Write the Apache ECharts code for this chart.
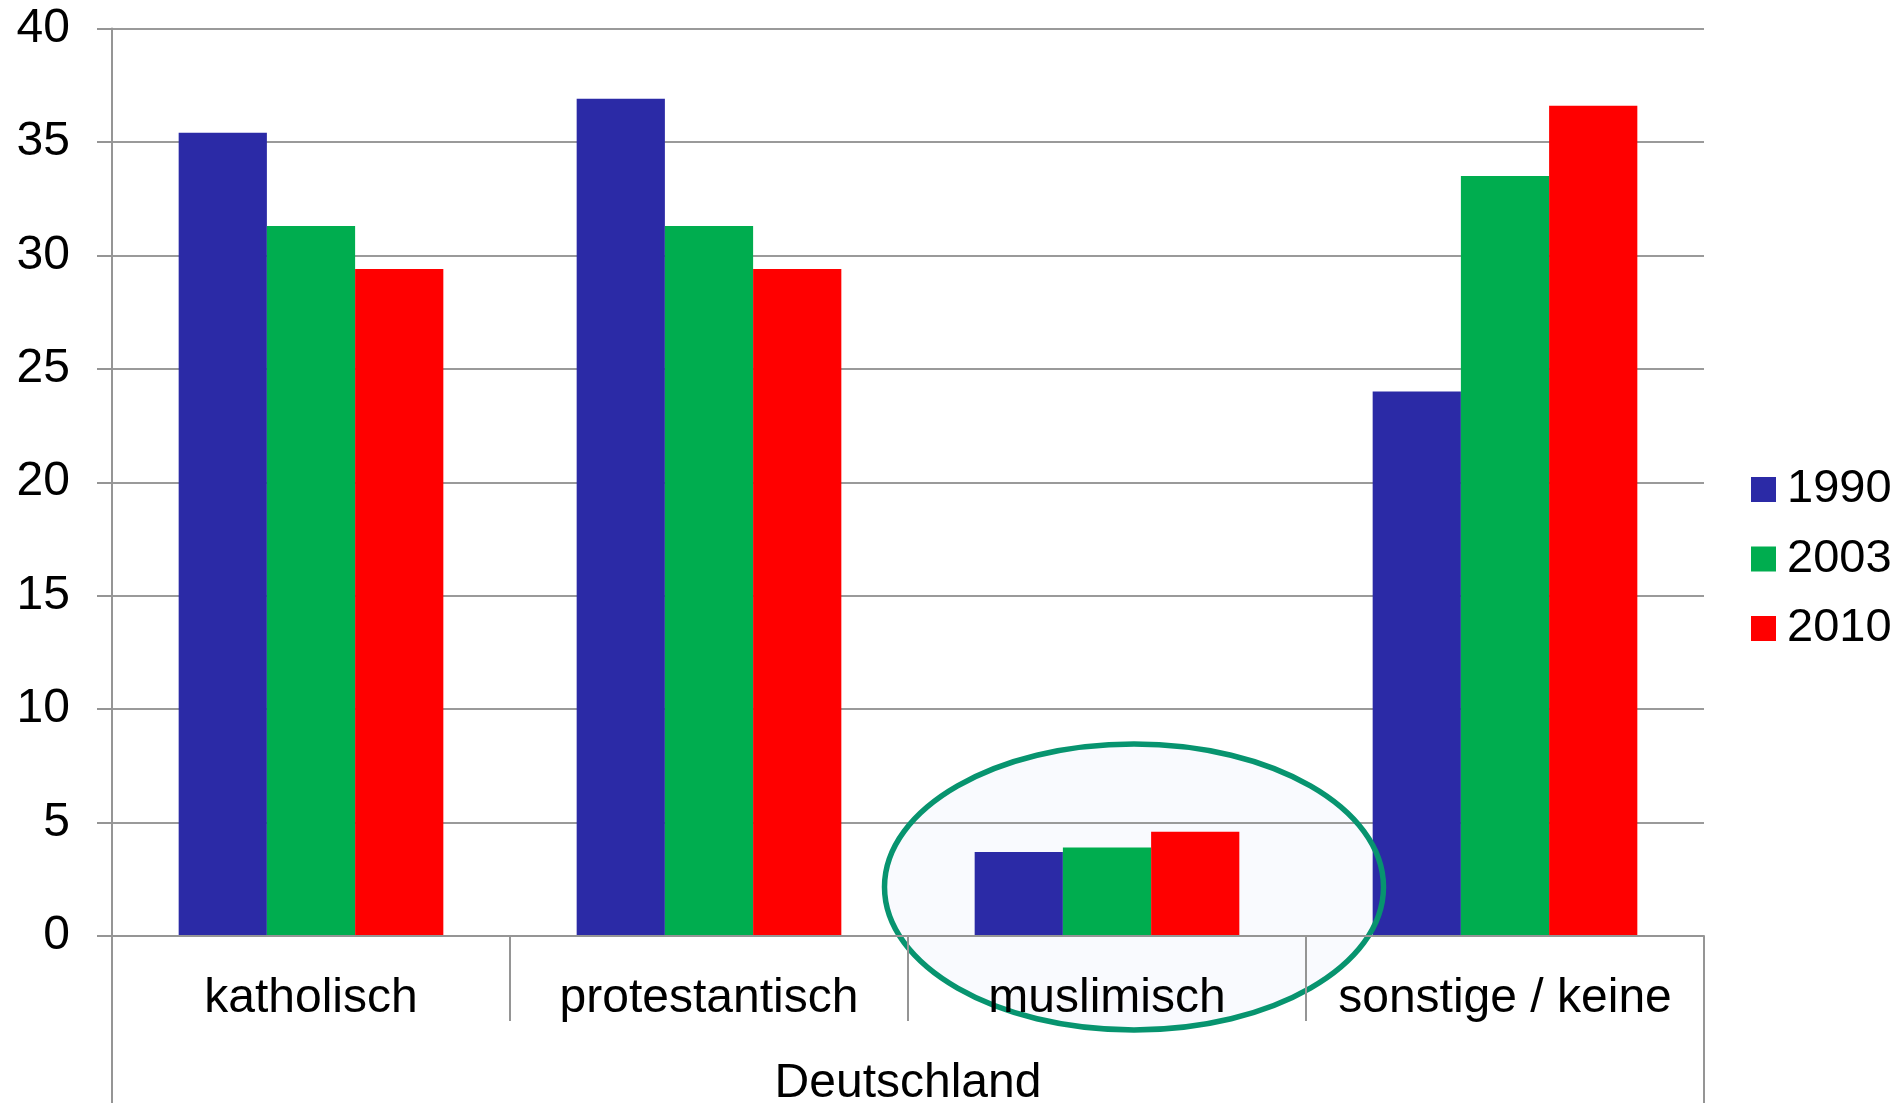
<!DOCTYPE html>
<html>
<head>
<meta charset="utf-8">
<script src="https://cdn.jsdelivr.net/npm/echarts@6/dist/echarts.min.js"></script>
<style>
  html, body { margin: 0; padding: 0; background: #ffffff; }
  #chart { width: 1899px; height: 1103px; }
</style>
</head>
<body>
<div id="chart"></div>
<script>
// Religionszugehörigkeit in Deutschland (Anteile in %)
const categories = ['katholisch', 'protestantisch', 'muslimisch', 'sonstige / keine'];
const groupLabel = ['Deutschland'];
const years = ['1990', '2003', '2010'];
const values1990 = [35.4, 36.9, 3.7, 24.0];
const values2003 = [31.3, 31.3, 3.9, 33.5];
const values2010 = [29.4, 29.4, 4.6, 36.6];
const yMin = 0, yMax = 40, yStep = 5;

const FONT = '"Liberation Sans", Arial, sans-serif';
const GRAY = '#959595';
const colors = ['#2B2AA6', '#00AD4F', '#FF0000'];

const chart = echarts.init(document.getElementById('chart'), null, { renderer: 'canvas' });

const seriesValues = [values1990, values2003, values2010];

chart.setOption({
  animation: false,
  backgroundColor: '#ffffff',
  textStyle: { fontFamily: FONT },
  grid: {
    left: 112, right: 195, top: 28.5, bottom: 167,
    containLabel: false,
    outerBoundsMode: 'none'
  },
  legend: {
    orient: 'vertical',
    left: 1751,
    top: 466,
    padding: 0,
    itemWidth: 25,
    itemHeight: 25,
    itemGap: 22.5,
    icon: 'rect',
    data: years,
    textStyle: { fontFamily: FONT, fontSize: 47, color: '#000', padding: [0, 0, 0, 6] }
  },
  xAxis: [
    {
      type: 'category',
      data: categories,
      position: 'bottom',
      z: 6,
      axisLine: { show: true, lineStyle: { color: GRAY, width: 2 } },
      axisTick: { show: true, alignWithLabel: false, length: 85, lineStyle: { color: GRAY, width: 2 } },
      axisLabel: { interval: 0, margin: 39, fontFamily: FONT, fontSize: 48, color: '#000' },
      splitLine: { show: false }
    },
    {
      type: 'category',
      data: groupLabel,
      position: 'bottom',
      offset: 0,
      z: 6,
      axisLine: { show: false },
      axisTick: { show: true, length: 175, lineStyle: { color: GRAY, width: 2 } },
      axisLabel: { interval: 0, margin: 124, fontFamily: FONT, fontSize: 48, color: '#000' },
      splitLine: { show: false }
    }
  ],
  yAxis: {
    type: 'value',
    min: yMin,
    max: yMax,
    interval: yStep,
    axisLine: { show: true, lineStyle: { color: GRAY, width: 2 } },
    axisTick: { show: true, inside: false, length: 15, lineStyle: { color: GRAY, width: 2 } },
    axisLabel: { margin: 42, fontFamily: FONT, fontSize: 48, color: '#000', padding: [9, 0, 0, 0] },
    splitLine: { show: true, lineStyle: { color: '#9a9a9a', width: 2 } }
  },
  series: years.map((y, i) => ({
    name: y,
    type: 'bar',
    xAxisIndex: 0,
    data: seriesValues[i],
    itemStyle: { color: colors[i] },
    barGap: '0%',
    barCategoryGap: '33.5%'
  })),
  graphic: [
    {
      // soft fill of the highlight ring, behind the grid lines
      type: 'ellipse',
      z: -1,
      shape: { cx: 1134, cy: 887, rx: 249.5, ry: 143 },
      style: { fill: '#f9fafe', stroke: null }
    },
    {
      // highlight ring around the muslim group
      type: 'ellipse',
      z: 4,
      shape: { cx: 1134, cy: 887, rx: 249.5, ry: 143 },
      style: { fill: null, stroke: '#07946F', lineWidth: 5.5 }
    }
  ]
});
</script>
</body>
</html>
